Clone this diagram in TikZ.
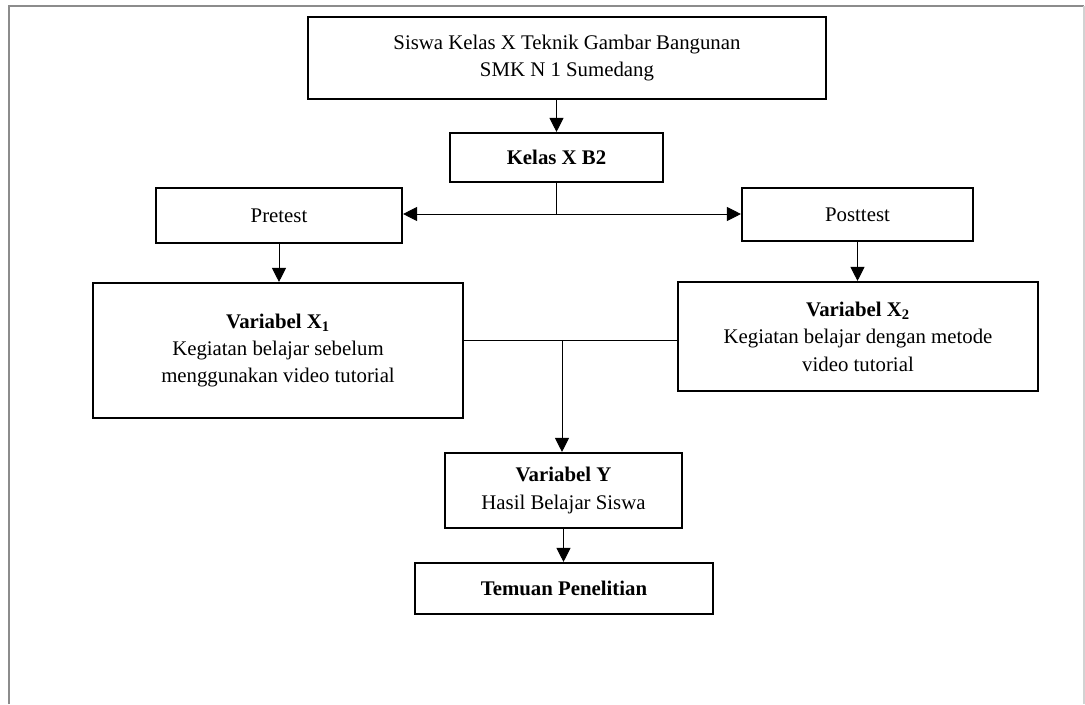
\documentclass[tikz,border=0pt]{standalone}
\usepackage{fontspec}
\setmainfont{Liberation Serif}
\usetikzlibrary{arrows.meta}

\tikzset{
  kotak/.style={draw, line width=1.5pt, align=center, inner sep=0pt,
    font=\fontsize{14.8}{19.5}\selectfont},
  panah/.style={line width=0.7pt, -{Triangle[length=10pt,width=10pt]}},
  garis/.style={line width=0.7pt}
}

\begin{document}
\begin{tikzpicture}[x=0.025cm, y=-0.025cm]
\useasboundingbox (0,0) rectangle (1085,704);
\draw[gray!90, line width=2pt] (9,704) -- (9,6) -- (1084,6);
\draw[gray!35, line width=1pt] (1084,6) -- (1084,704);

\node[kotak, minimum width=518*0.025cm, minimum height=82*0.025cm] (siswa) at (567,58)
  {Siswa Kelas X Teknik Gambar Bangunan\\SMK N 1 Sumedang};
\node[kotak, minimum width=213*0.025cm, minimum height=49*0.025cm] (kelas) at (556.5,157.5)
  {\textbf{Kelas X B2}};
\node[kotak, minimum width=246*0.025cm, minimum height=55*0.025cm] (pre) at (279,215.5)
  {Pretest};
\node[kotak, minimum width=231*0.025cm, minimum height=53*0.025cm] (post) at (857.5,214.5)
  {Posttest};
\node[kotak, minimum width=370*0.025cm, minimum height=135*0.025cm] (xsatu) at (278,350.5)
  {\textbf{Variabel X\textsubscript{1}}\\Kegiatan belajar sebelum\\menggunakan video tutorial};
\node[kotak, minimum width=360*0.025cm, minimum height=109*0.025cm] (xdua) at (858,336.5)
  {\textbf{Variabel X\textsubscript{2}}\\Kegiatan belajar dengan metode\\video tutorial};
\node[kotak, minimum width=237*0.025cm, minimum height=75*0.025cm] (vary) at (563.5,490.5)
  {\textbf{Variabel Y}\\Hasil Belajar Siswa};
\node[kotak, minimum width=298*0.025cm, minimum height=51*0.025cm] (temuan) at (564,588.5)
  {\textbf{Temuan Penelitian}};

\coordinate (bagi) at (556.5,214);
\coordinate (gabung) at (562,340);

\draw[panah] (siswa.south -| kelas.north) -- (kelas.north);
\draw[garis] (kelas.south) -- (bagi);
\draw[panah] (bagi) -- (bagi -| pre.east);
\draw[panah] (bagi) -- (bagi -| post.west);
\draw[panah] (pre.south) -- (pre.south |- xsatu.north);
\draw[panah] (post.south) -- (post.south |- xdua.north);
\draw[garis] (gabung -| xsatu.east) -- (gabung -| xdua.west); %% X1 ke X2
\draw[panah] (gabung) -- (gabung |- vary.north);
\draw[panah] (vary.south) -- (vary.south |- temuan.north);
\end{tikzpicture}
\end{document}
